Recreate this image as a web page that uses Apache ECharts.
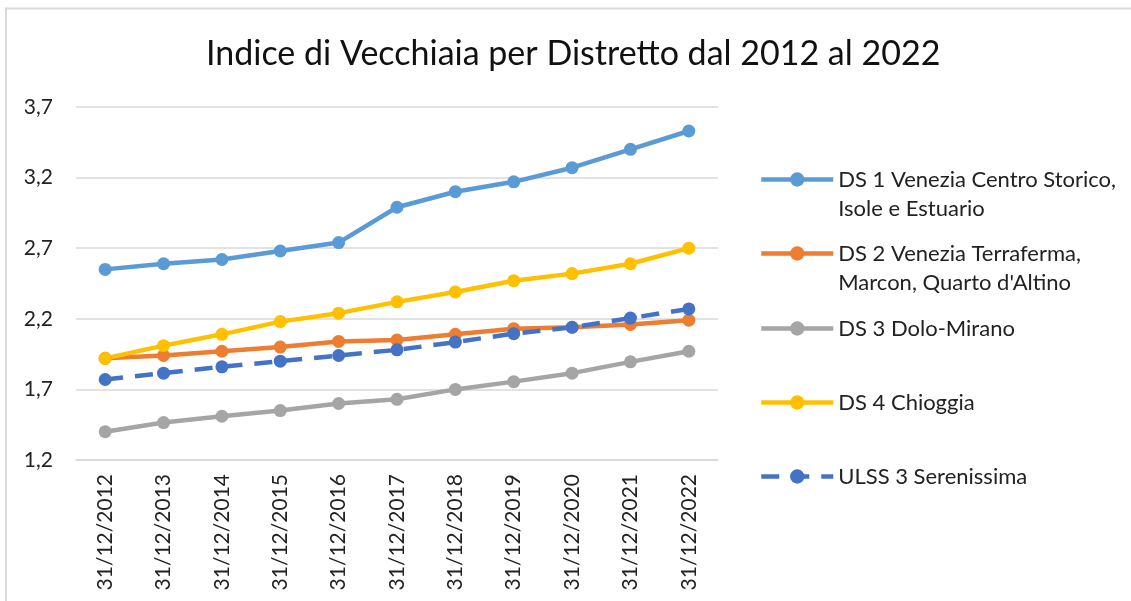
<!DOCTYPE html>
<html>
<head>
    <meta charset="utf-8">
    <title>Indice di Vecchiaia per Distretto</title>
    <script src="https://cdn.jsdelivr.net/npm/echarts@6/dist/echarts.min.js"></script>
    <style>
        html, body { margin: 0; padding: 0; background: #fff; }
    </style>
</head>
<body>
    <div id="main" style="width: 1131px;height:601px;"></div>
    <script type="text/javascript">
        // dati
        var categorie = ['31/12/2012', '31/12/2013', '31/12/2014', '31/12/2015', '31/12/2016', '31/12/2017',
                         '31/12/2018', '31/12/2019', '31/12/2020', '31/12/2021', '31/12/2022'];
        var ds1 = [2.55, 2.59, 2.62, 2.68, 2.74, 2.99, 3.10, 3.17, 3.27, 3.40, 3.53];
        var ds2 = [1.92, 1.94, 1.97, 2.00, 2.04, 2.05, 2.09, 2.13, 2.14, 2.16, 2.19];
        var ds3 = [1.40, 1.465, 1.51, 1.55, 1.60, 1.63, 1.70, 1.755, 1.815, 1.895, 1.97];
        var ds4 = [1.92, 2.01, 2.09, 2.18, 2.24, 2.32, 2.39, 2.47, 2.52, 2.59, 2.70];
        var ulss3 = [1.77, 1.815, 1.86, 1.90, 1.94, 1.98, 2.035, 2.095, 2.14, 2.205, 2.27];

        var nomi = ['DS 1 Venezia Centro Storico,\nIsole e Estuario',
                    'DS 2 Venezia Terraferma,\nMarcon, Quarto d\'Altino',
                    'DS 3 Dolo-Mirano',
                    'DS 4 Chioggia',
                    'ULSS 3 Serenissima'];
        var colori = ['#5B9BD5', '#ED7D31', '#A5A5A5', '#FFC000', '#4472C4'];
        var valori = [ds1, ds2, ds3, ds4, ulss3];

        var font = 'Lato';
        var legendTop = [136, 210, 314, 388, 462];

        var myChart = echarts.init(document.getElementById('main'));

        // una legenda per voce, così le posizioni restano come nell'originale
        var legende = nomi.map(function (n, i) {
            return {
                data: [n],
                left: 759,
                top: legendTop[i],
                padding: 0,
                itemWidth: 72,
                itemHeight: 18,
                lineStyle: { width: 4.5 },
                // riga vuota sopra: la prima riga del testo resta allineata al simbolo
                formatter: function (name) {
                    return name.indexOf('\n') >= 0 ? ' \n' + name : name;
                },
                textStyle: {
                    fontFamily: font,
                    fontSize: 22,
                    color: '#222',
                    lineHeight: 29
                }
            };
        });

        var serie = nomi.map(function (n, i) {
            return {
                name: n,
                type: 'line',
                data: valori[i],
                symbol: 'circle',
                symbolSize: 13,
                color: colori[i],
                lineStyle: {
                    width: 4.5,
                    type: i === 4 ? [18, 12] : 'solid'
                },
                itemStyle: { color: colori[i] }
            };
        });

        myChart.setOption({
            animation: false,
            title: {
                text: 'Indice di Vecchiaia per Distretto dal 2012 al 2022',
                left: 201,
                top: 32,
                textStyle: {
                    fontFamily: font,
                    fontSize: 34,
                    fontWeight: 'normal',
                    color: '#111'
                }
            },
            legend: legende,
            grid: {
                left: 76,
                right: 413,
                top: 107,
                bottom: 141
            },
            graphic: [{
                type: 'rect',
                shape: { x: 6, y: 8.5, width: 1300, height: 800 },
                style: { fill: null, stroke: '#d9d9d9', lineWidth: 2 },
                silent: true
            }],
            xAxis: {
                type: 'category',
                data: categorie,
                boundaryGap: true,
                axisLine: { lineStyle: { color: '#d9d9d9', width: 1.5 } },
                axisTick: { show: false },
                axisLabel: {
                    rotate: 90,
                    margin: 14,
                    fontFamily: font,
                    fontSize: 21,
                    color: '#222'
                }
            },
            yAxis: {
                type: 'value',
                min: 1.2,
                max: 3.7,
                interval: 0.5,
                axisLine: { show: false },
                axisTick: { show: false },
                splitLine: { lineStyle: { color: '#d9d9d9', width: 1.5 } },
                axisLabel: {
                    margin: 23,
                    fontFamily: font,
                    fontSize: 21,
                    color: '#222',
                    formatter: function (v) { return v.toFixed(1).replace('.', ','); }
                }
            },
            series: serie
        });
    </script>
</body>
</html>
